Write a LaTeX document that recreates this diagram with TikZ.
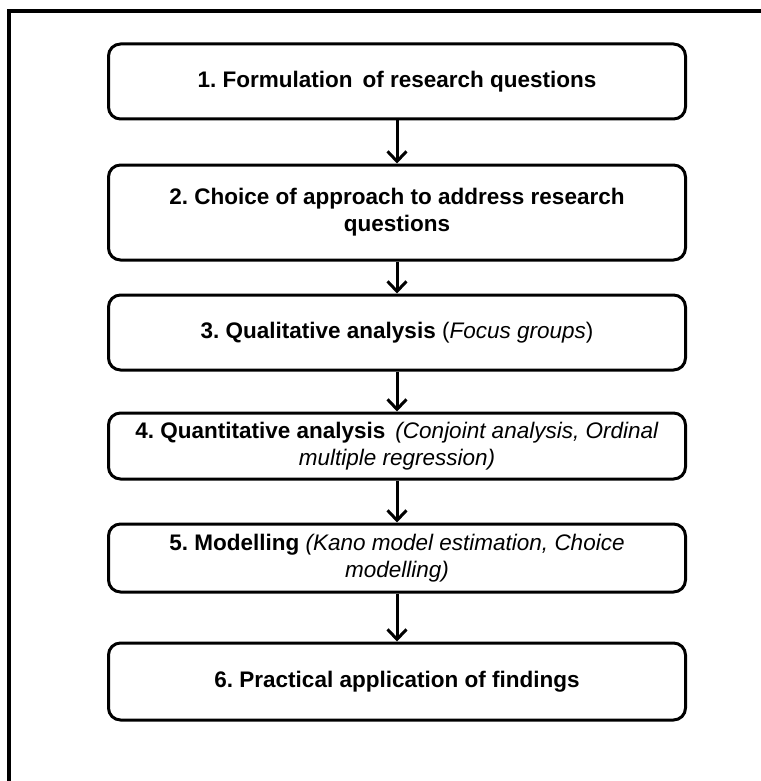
\documentclass[tikz,border=0pt]{standalone}
\usepackage{fontspec}
\setmainfont{Liberation Sans}
\usetikzlibrary{arrows.meta}
\frenchspacing
\begin{document}
\begin{tikzpicture}[x=1pt,y=-1pt,
  stepbox/.style={draw, line width=3pt, rounded corners=12pt, minimum width=577pt,
    inner sep=0pt, align=center, font=\fontsize{22.5}{27}\selectfont\frenchspacing},
  flow/.style={line width=3pt, -{Straight Barb[length=10pt,width=19pt,line width=3pt]}}]
\useasboundingbox (0,0) rectangle (760,781);
\draw[line width=4pt, line join=miter] (9,790) -- (9,11.5) -- (770,11.5);
\node[stepbox, minimum height=75pt] (b1) at (397,81.5) {\bfseries 1. Formulation\, of research questions};
\node[stepbox, minimum height=95pt] (b2) at (397,212.5) {\bfseries 2. Choice of approach to address research\\ \bfseries questions};
\node[stepbox, minimum height=75pt] (b3) at (397,332.5) {\textbf{3. Qualitative analysis} (\textit{Focus groups})};
\node[stepbox, minimum height=66pt] (b4) at (397,446) {\textbf{4. Quantitative analysis}\, \textit{(Conjoint analysis, Ordinal}\\ \textit{multiple regression)}};
\node[stepbox, minimum height=68pt] (b5) at (397,558) {\textbf{5. Modelling} \textit{(Kano model estimation, Choice}\\ \textit{modelling)}};
\node[stepbox, minimum height=77pt] (b6) at (397,681.5) {\bfseries 6. Practical application of findings};
\draw[flow] (b1.south) -- (b2.north);
\draw[flow] (b2.south) -- (b3.north);
\draw[flow] (b3.south) -- (b4.north);
\draw[flow] (b4.south) -- (b5.north);
\draw[flow] (b5.south) -- (b6.north);
\end{tikzpicture}
\end{document}
